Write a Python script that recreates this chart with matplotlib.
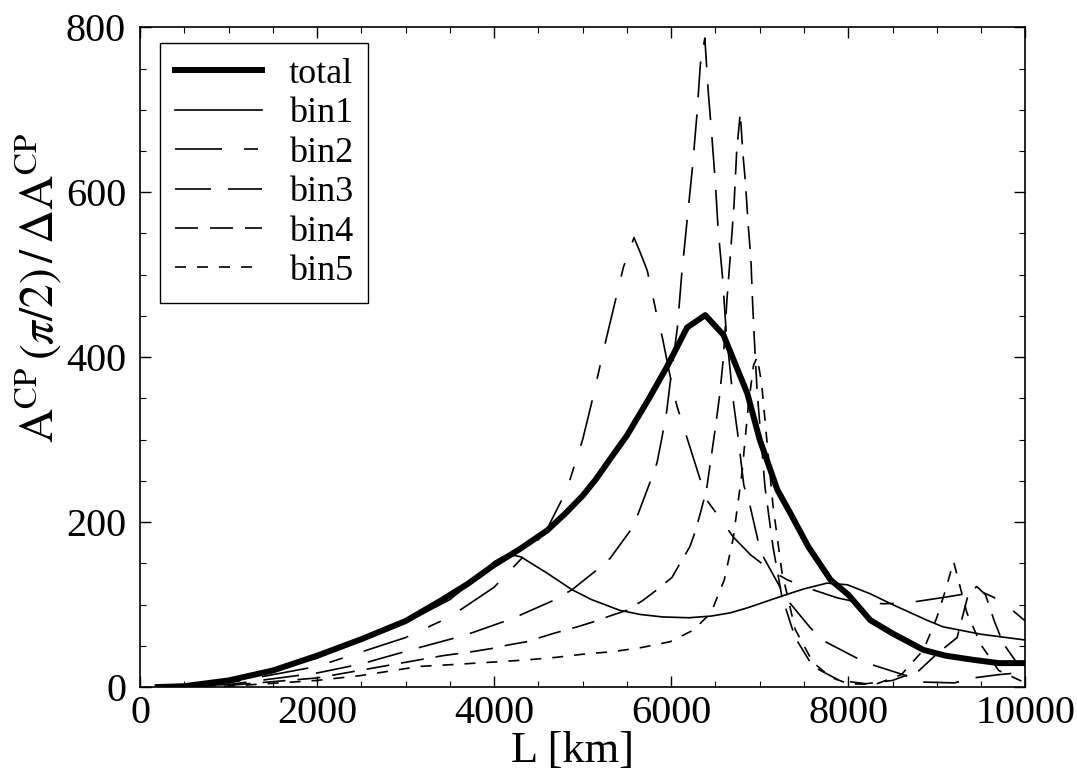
import numpy as np
import matplotlib
matplotlib.use('Agg')
import matplotlib.pyplot as plt
from matplotlib.ticker import MultipleLocator

plt.rcParams['font.family'] = ['Liberation Serif', 'DejaVu Serif']
plt.rcParams['mathtext.fontset'] = 'stix'
plt.rcParams['lines.scale_dashes'] = False

# values (L in km)
total_L = [200, 500, 1000, 1500, 2000, 2500, 3000, 3400, 3700, 4000, 4300, 4600, 4800, 5000, 5150,
           5300, 5500, 5750, 5950, 6180, 6385, 6590, 6860, 7000, 7200, 7345, 7550, 7800, 8000, 8250,
           8500, 8850, 9100, 9410, 9700, 10000]
total = [0, 1, 8, 20, 38, 58, 80, 105, 125, 148, 168, 190, 210, 232, 252,
         275, 305, 350, 388, 436, 451, 427, 356, 300, 239, 211, 170, 130, 112, 81,
         65, 45, 38, 33, 29, 29]

bin1_L = [200, 1000, 2000, 3000, 3500, 3800, 4000, 4100, 4200, 4300, 4600, 4880, 5100, 5420, 5650,
          5900, 6200, 6450, 6670, 6860, 7270, 7500, 7760, 7990, 8250, 8500, 8890, 9070, 9500, 10000]
bin1 = [0, 7, 35, 78, 106, 132, 152, 158, 160, 158, 138, 118, 106, 93, 88,
        85, 84, 86, 90, 96, 111, 119, 126, 124, 113, 100, 81, 73, 64, 57]

bin2_L = [200, 1000, 2000, 3000, 3500, 4000, 4400, 4600, 4820, 5000, 5100, 5270, 5460, 5580, 5650,
          5730, 5850, 5900, 6020, 6070, 6250, 6400, 6590, 6700, 6900, 7120, 7310, 7600, 7880, 8100,
          8400, 8670, 8850, 9100, 9380, 9450, 9640, 9800, 10000]
bin2 = [0, 5, 25, 60, 85, 121, 166, 192, 239, 300, 344, 424, 509, 545, 527,
        505, 445, 424, 360, 339, 278, 227, 199, 182, 160, 142, 130, 118, 108, 103,
        101, 102, 105, 109, 114, 118, 109, 98, 80]

bin3_L = [200, 1000, 2000, 2500, 3160, 3540, 3730, 4100, 4290, 4670, 4880, 5160, 5310, 5540, 5630,
          5760, 5840, 5900, 5950, 5990, 6070, 6120, 6180, 6240, 6290, 6330, 6380, 6420, 6460, 6500,
          6530, 6580, 6620, 6700, 6750, 6820, 6890, 6980, 7040, 7230, 7340, 7570, 7740, 8080, 8270,
          8620, 8850, 9200, 9410, 9700, 10000]
bin3 = [0, 3, 17, 28, 48, 59, 65, 79, 87, 105, 118, 142, 156, 190, 211,
        248, 272, 305, 335, 370, 436, 502, 566, 630, 693, 756, 787, 720, 667, 610,
        555, 497, 433, 348, 308, 245, 220, 178, 158, 121, 102, 72, 55, 36, 27,
        15, 6, 5, 11, 15, 18]

bin4_L = [200, 1000, 2000, 3000, 3420, 3760, 3990, 4160, 4370, 4550, 4670, 4940, 5120, 5330, 5500,
          5680, 5840, 6010, 6100, 6210, 6270, 6330, 6400, 6460, 6500, 6550, 6590, 6630, 6670, 6710,
          6740, 6780, 6810, 6840, 6870, 6900, 6920, 6940, 6970, 7000, 7060, 7150, 7250, 7400, 7600,
          7900, 8200, 8500, 8800, 9000, 9230, 9350, 9450, 9550, 9650, 9750, 9900, 10000]
bin4 = [0, 2, 11, 30, 38, 43, 47, 51, 55, 61, 65, 73, 79, 87, 93,
        105, 118, 133, 150, 170, 188, 211, 240, 285, 315, 356, 400, 470, 526, 585,
        650, 696, 647, 610, 560, 520, 465, 420, 360, 320, 242, 170, 110, 60, 25,
        8, 4, 8, 20, 40, 60, 110, 122, 112, 80, 53, 30, 20]

bin5_L = [200, 1000, 2000, 2500, 3160, 3500, 4100, 4380, 4700, 5020, 5350, 5670, 5990, 6250, 6450,
          6600, 6700, 6800, 6870, 6930, 6970, 7020, 7080, 7150, 7250, 7400, 7600, 7800, 8000, 8300,
          8600, 8850, 9000, 9100, 9190, 9340, 9500, 9700, 10000]
bin5 = [0, 1, 8, 14, 25, 27, 31, 33, 36, 40, 43, 48, 55, 69, 90,
        130, 180, 260, 340, 390, 400, 370, 300, 220, 140, 70, 30, 12, 4, 3,
        15, 45, 84, 118, 152, 90, 51, 20, 5]

px = 0.72  # points per pixel at dpi 100

fig = plt.figure(figsize=(10.77, 7.77), dpi=100)
ax = fig.add_axes([0.130, 0.1158, 0.822, 0.849])

thin = 1.2
ax.plot(total_L, total, color='k', lw=4.3, label='total', zorder=5)
ax.plot(bin1_L, bin1, color='k', lw=thin, label='bin1')
ax.plot(bin2_L, bin2, color='k', lw=thin, label='bin2',
        linestyle=(0, (47 * px, 22 * px, 14 * px, 22 * px)))
ax.plot(bin3_L, bin3, color='k', lw=thin, label='bin3',
        linestyle=(0, (36 * px, 17 * px)))
ax.plot(bin4_L, bin4, color='k', lw=thin, label='bin4',
        linestyle=(0, (23 * px, 12 * px)))
ax.plot(bin5_L, bin5, color='k', lw=thin, label='bin5',
        linestyle=(0, (11 * px, 11 * px)))

ax.set_xlim(0, 10000)
ax.set_ylim(0, 800)
ax.xaxis.set_major_locator(MultipleLocator(2000))
ax.xaxis.set_minor_locator(MultipleLocator(500))
ax.yaxis.set_major_locator(MultipleLocator(200))
ax.yaxis.set_minor_locator(MultipleLocator(50))
ax.tick_params(which='both', direction='in', top=True, right=True, labelsize=29)
ax.tick_params(axis='x', pad=6)
ax.tick_params(axis='y', pad=10)
ax.tick_params(which='major', length=8, width=1)
ax.tick_params(which='minor', length=4, width=0.8)
for s in ax.spines.values():
    s.set_linewidth(1.2)

ax.set_xlabel('L [km]', fontsize=32, va='center')
ax.xaxis.set_label_coords(0.488, -0.097)
ax.set_ylabel(r'$\mathrm{A}^{\mathrm{CP}}\,(\pi/2)\,/\,\Delta\mathrm{A}^{\mathrm{CP}}$', fontsize=34,
              va='center', ha='center')
ax.yaxis.set_label_coords(-0.115, 0.606)

leg = ax.legend(loc='upper left', fontsize=26, handlelength=2.4, handletextpad=0.75,
                labelspacing=0.17, borderpad=0.42, borderaxespad=0, fancybox=False, edgecolor='k',
                framealpha=1, bbox_to_anchor=(0.0226, 0.977))
leg.get_frame().set_linewidth(1.0)

fig.savefig('out.png', dpi=100)
